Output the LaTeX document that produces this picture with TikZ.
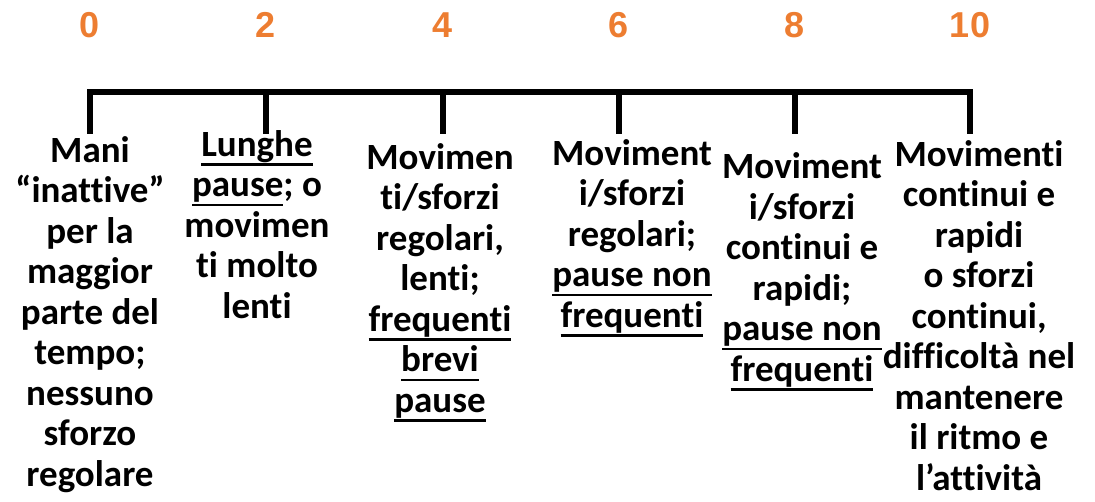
\documentclass[tikz,border=0pt]{standalone}
\usepackage{fontspec}
\setmainfont{Carlito}[Ligatures={TeX,NoCommon}]
\newfontfamily\numfont{Liberation Sans}
\definecolor{scaleorange}{RGB}{237,125,49}
% underline drawn at a fixed depth below the baseline
\newsavebox\ulbox
\newcommand\uln[1]{\sbox\ulbox{#1}\rlap{\vrule height -0.2em depth 0.26em width \wd\ulbox}\usebox\ulbox}
\begin{document}
\begin{tikzpicture}[x=1pt,y=-1pt,
  axis/.style={line width=6pt,line cap=butt,line join=miter},
  num/.style={anchor=base,inner sep=0pt,text=scaleorange,
    font=\numfont\bfseries\fontsize{36}{40}\selectfont},
  desc/.style={anchor=base,inner sep=0pt,align=center,
    font=\bfseries\fontsize{37}{40.5}\selectfont}]
\useasboundingbox (0,0) rectangle (1095,501);
% tick positions along the scale
\foreach \i/\x in {0/90,1/266,2/443,3/619,4/795,5/970}{
  \coordinate (t\i) at (\x,91.5);
  \coordinate (b\i) at (\x,134);
}
% scale values
\node[num] (n0) at (90,37) {0};
\node[num] (n1) at (266,37) {2};
\node[num] (n2) at (443,37) {4};
\node[num] (n3) at (619,37) {6};
\node[num] (n4) at (795,37) {8};
\node[num] (n5) at (970,37) {10};
% the scale bar with its ticks
\draw[axis] ([xshift=-3pt]t0) -- ([xshift=3pt]t5);
\foreach \i in {0,...,5}{
  \draw[axis] ([yshift=-3pt]t\i) -- (b\i);
}
% descriptions under each tick (placed by the baseline of their last line)
\node[desc] (d0) at (90,486) {Mani\\“inattive”\\per la\\maggior\\parte del\\tempo;\\nessuno\\sforzo\\regolare};
\node[desc] (d1) at (257,318) {\uln{Lunghe}\\\uln{pause}; o\\movimen\\ti molto\\lenti};
\node[desc] (d2) at (440,412) {Movimen\\ti/sforzi\\regolari,\\lenti;\\\uln{frequenti}\\\uln{brevi}\\\uln{pause}};
\node[desc] (d3) at (632,327) {Moviment\\i/sforzi\\regolari;\\\uln{pause non}\\\uln{frequenti}};
\node[desc] (d4) at (802,381) {Moviment\\i/sforzi\\continui e\\rapidi;\\\uln{pause non}\\\uln{frequenti}};
\node[desc] (d5) at (979,490) {Movimenti\\continui e\\rapidi\\o sforzi\\continui,\\difficoltà nel\\mantenere\\il ritmo e\\l’attività};
\end{tikzpicture}
\end{document}
